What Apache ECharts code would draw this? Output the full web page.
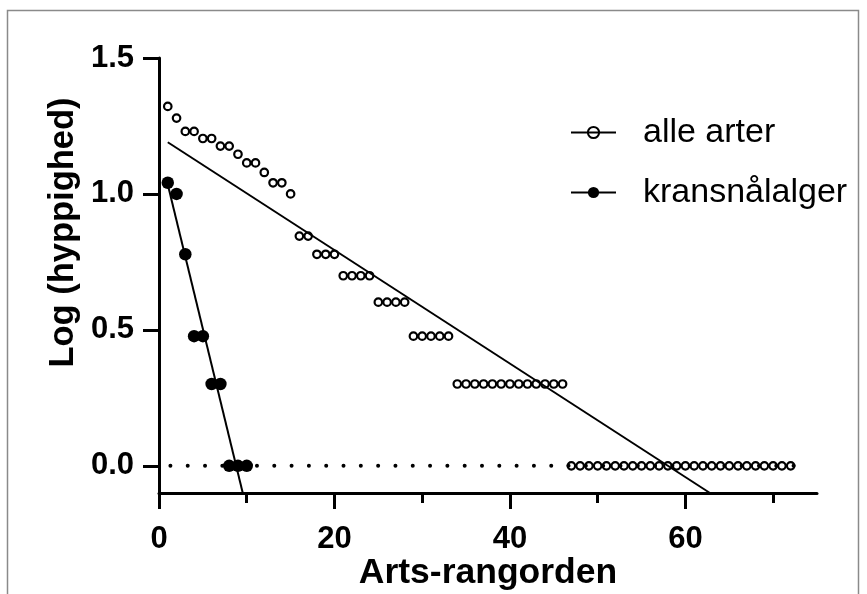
<!DOCTYPE html>
<html>
<head>
<meta charset="utf-8">
<script src="https://cdn.jsdelivr.net/npm/echarts@6/dist/echarts.min.js"></script>
<style>
html,body{margin:0;padding:0;background:#fff;}
#c{width:867px;height:594px;}
</style>
</head>
<body>
<div id="c"></div>
<script>
// ---- data ----
const seriesNames = ['alle arter', 'kransnålalger'];
const alleRanks = [1,2,3,4,5,6,7,8,9,10,11,12,13,14,15,16,17,18,19,20,21,22,23,24,25,26,27,28,29,30,31,32,33,34,35,36,37,38,39,40,41,42,43,44,45,46,47,48,49,50,51,52,53,54,55,56,57,58,59,60,61,62,63,64,65,66,67,68,69,70,71,72];
const alleValues = [1.322,1.279,1.230,1.230,1.204,1.204,1.176,1.176,1.146,1.114,1.114,1.079,1.041,1.041,1.000,
  0.845,0.845,0.778,0.778,0.778,0.699,0.699,0.699,0.699,0.602,0.602,0.602,0.602,
  0.477,0.477,0.477,0.477,0.477,
  0.301,0.301,0.301,0.301,0.301,0.301,0.301,0.301,0.301,0.301,0.301,0.301,0.301,
  0,0,0,0,0,0,0,0,0,0,0,0,0,0,0,0,0,0,0,0,0,0,0,0,0,0];
const kransRanks = [1,2,3,4,5,6,7,8,9,10];
const kransValues = [1.041,1.000,0.778,0.477,0.477,0.301,0.301,0,0,0];
// fitted regression lines (end points)
const alleFitX = [1, 62.8];
const alleFitY = [1.19, -0.1];
const kransFitX = [1, 9.55];
const kransFitY = [1.035, -0.1];
// dotted zero reference line
const zeroLineX = [1.3, 73.6];
const zeroLineY = [0, 0];
// axes
const xMajorTicks = [0, 20, 40, 60];
const xMinorTicks = [10, 30, 50, 70];
const yTicks = [0, 0.5, 1.0, 1.5];
const xTitle = 'Arts-rangorden';
const yTitle = 'Log (hyppighed)';

const FONT = '"Liberation Sans", Arial, Helvetica, sans-serif';
const zip = (xs, ys) => xs.map((x, i) => [x, ys[i]]);

const chart = echarts.init(document.getElementById('c'), null, {renderer: 'canvas'});
chart.setOption({
  animation: false,
  backgroundColor: '#fff',
  grid: {left: 159, top: 58, width: 658, height: 435, containLabel: false, outerBoundsMode: 'none'},
  graphic: [{
    type: 'rect', silent: true, z: 0,
    shape: {x: 7.5, y: 10.5, width: 851, height: 620},
    style: {fill: 'none', stroke: '#8a8a8a', lineWidth: 1.5}
  }],
  legend: {
    orient: 'vertical', left: 565, top: 110,
    itemWidth: 45, itemHeight: 14, itemGap: 25,
    selectedMode: false,
    data: [
      {name: seriesNames[0], lineStyle: {color: '#000', width: 2, opacity: 1}},
      {name: seriesNames[1], lineStyle: {color: '#000', width: 2, opacity: 1}}
    ],
    textStyle: {fontFamily: FONT, fontSize: 34, color: '#000', lineHeight: 35, padding: [0, 0, 0, 22]}
  },
  xAxis: [{
    type: 'value', min: 0, max: 75,
    axisLine: {onZero: false, lineStyle: {color: '#000', width: 3}},
    axisTick: {customValues: xMajorTicks, length: 16, lineStyle: {color: '#000', width: 3}},
    axisLabel: {customValues: xMajorTicks, margin: 31, fontFamily: FONT, fontSize: 31, fontWeight: 'bold', color: '#000'},
    splitLine: {show: false},
    name: xTitle, nameLocation: 'middle', nameGap: 62, nameMoveOverlap: false,
    nameTextStyle: {fontFamily: FONT, fontSize: 35.5, fontWeight: 'bold', color: '#000'}
  }, {
    type: 'value', min: 0, max: 75, position: 'bottom',
    axisLine: {show: false, onZero: false},
    axisTick: {customValues: xMinorTicks, length: 10, lineStyle: {color: '#000', width: 3}},
    axisLabel: {show: false},
    splitLine: {show: false}
  }],
  yAxis: {
    type: 'value', min: -0.1, max: 1.5,
    axisLine: {show: true, onZero: false, lineStyle: {color: '#000', width: 3}},
    axisTick: {show: true, customValues: yTicks, length: 16, lineStyle: {color: '#000', width: 3}},
    axisLabel: {customValues: yTicks, formatter: v => Number(v).toFixed(1), margin: 25,
      fontFamily: FONT, fontSize: 31, fontWeight: 'bold', color: '#000'},
    splitLine: {show: false},
    name: yTitle, nameLocation: 'middle', nameGap: 78, nameMoveOverlap: false,
    nameTextStyle: {fontFamily: FONT, fontSize: 34.5, fontWeight: 'bold', color: '#000', padding: [0, 0, 0, 86]}
  },
  series: [
    {
      name: 'zero', type: 'line', data: zip(zeroLineX, zeroLineY), symbol: 'none', silent: true, z: 1,
      lineStyle: {color: '#000', width: 4, type: [0.01, 17.3], cap: 'round'}
    },
    {
      name: 'fit1', type: 'line', data: zip(alleFitX, alleFitY), symbol: 'none', silent: true, z: 2,
      lineStyle: {color: '#000', width: 2}
    },
    {
      name: 'fit2', type: 'line', data: zip(kransFitX, kransFitY), symbol: 'none', silent: true, z: 2,
      lineStyle: {color: '#000', width: 2}
    },
    {
      name: seriesNames[0], type: 'line', data: zip(alleRanks, alleValues), z: 3,
      symbol: 'circle', symbolSize: 7.5, showAllSymbol: true,
      itemStyle: {color: 'rgba(255,255,255,0)', borderColor: '#000', borderWidth: 2.2},
      lineStyle: {opacity: 0}
    },
    {
      name: seriesNames[1], type: 'line', data: zip(kransRanks, kransValues), z: 3,
      symbol: 'circle', symbolSize: 12.5, showAllSymbol: true,
      itemStyle: {color: '#000', borderWidth: 0},
      lineStyle: {opacity: 0}
    }
  ]
});
</script>
</body>
</html>
